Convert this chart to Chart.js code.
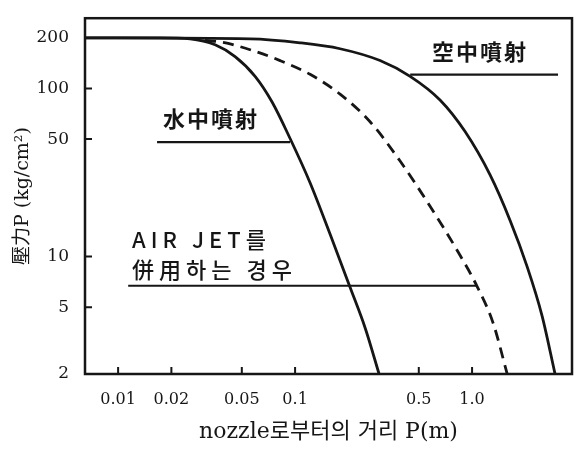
<!DOCTYPE html>
<html>
<head>
<meta charset="utf-8">
<script src="https://cdn.jsdelivr.net/npm/chart.js@4"></script>
<style>
  html, body { margin: 0; padding: 0; background: #fff; }
  #wrap { width: 580px; height: 450px; }
</style>
</head>
<body>
<div id="wrap"><canvas id="c" width="580" height="450"></canvas></div>
<script>
// ---- data ----
const xTickValues = [0.01, 0.02, 0.05, 0.1, 0.5, 1.0];
const xTickLabels = ['0.01', '0.02', '0.05', '0.1', '0.5', '1.0'];
const yTickValues = [2, 5, 10, 50, 100, 200];
const yTickLabels = ['2', '5', '10', '50', '100', '200'];

// 水中噴射 (underwater jet)
const waterDist  = [0.0065, 0.01726, 0.02551, 0.03533, 0.04581, 0.05943, 0.07413, 0.0937, 0.1215, 0.1576, 0.2045, 0.2486, 0.2983];
const waterPress = [200, 200, 197.3, 181.9, 154.7, 118.1, 83.1, 50.4, 27.5, 13.6, 6.56, 3.77, 2];

// AIR JET를 併用하는 경우 (dashed)
const airJetDist  = [0.031, 0.0392, 0.0557, 0.0823, 0.1215, 0.1795, 0.2653, 0.392, 0.579, 0.8017, 1.067, 1.314, 1.58];
const airJetPress = [193, 188, 170.1, 146.6, 121.4, 92.6, 63.4, 37.0, 19.9, 11.42, 6.65, 4.03, 2];

// 空中噴射 (jet in air)
const airDist  = [0.0065, 0.0557, 0.1067, 0.1795, 0.302, 0.4467, 0.659, 0.913, 1.264, 1.640, 2.047, 2.486, 2.944];
const airPress = [200, 197.3, 187, 172.4, 146.6, 118.1, 85.4, 55.4, 30.6, 16.4, 8.71, 4.44, 2];

// leader lines under the labels
const leaderAir    = { x: [0.447, 3.06],   y: [121, 121] };
const leaderWater  = { x: [0.0166, 0.0937], y: [48, 48] };
const leaderAirJet = { x: [0.0114, 1.067], y: [6.7, 6.7] };

// text labels (anchor in data space)
const labelTexts = ['空中噴射', '水中噴射', 'AIR JET를', '併用하는 경우'];
const labelX     = [1.11, 0.0335, 0.012, 0.012];
const labelY     = [165, 66, 12.6, 8.4];

const xTitle = 'nozzle로부터의 거리 P(m)';
const yTitle = '壓力P (kg/cm²)';

// ---- helpers ----
const pts = (xs, ys) => xs.map((v, i) => ({ x: v, y: ys[i] }));
const INK = '#161616';

const framePlugin = {
  id: 'frame',
  beforeDraw(chart) {
    const ctx = chart.ctx;
    ctx.save();
    ctx.fillStyle = '#fff';
    ctx.fillRect(0, 0, chart.width, chart.height);
    ctx.restore();
  },
  afterDatasetsDraw(chart) {
    const { ctx, chartArea: a, scales: { x, y } } = chart;
    ctx.save();
    ctx.strokeStyle = INK;
    ctx.lineWidth = 2.5;
    ctx.strokeRect(a.left, a.top, a.right - a.left, a.bottom - a.top);
    ctx.lineWidth = 2;
    ctx.beginPath();
    xTickValues.forEach(v => {
      const px = x.getPixelForValue(v);
      ctx.moveTo(px, a.bottom); ctx.lineTo(px, a.bottom - 7);
    });
    yTickValues.forEach(v => {
      const py = y.getPixelForValue(v);
      ctx.moveTo(a.left, py); ctx.lineTo(a.left + 7, py);
    });
    ctx.stroke();

    ctx.fillStyle = INK;
    ctx.textBaseline = 'middle';
    labelTexts.forEach((t, i) => {
      const px = x.getPixelForValue(labelX[i]);
      const py = y.getPixelForValue(labelY[i]);
      if (i < 2) {
        ctx.font = 'bold 22px "Noto Sans CJK KR", "Noto Sans CJK TC", sans-serif';
        ctx.letterSpacing = '2px';
        ctx.textAlign = 'center';
      } else {
        ctx.font = '500 22px "Noto Sans CJK KR", "Noto Sans", sans-serif';
        ctx.letterSpacing = '5px';
        ctx.textAlign = 'left';
      }
      ctx.fillText(t, px, py);
    });
    ctx.restore();
  }
};

const lineStyle = { borderColor: INK, borderWidth: 2.8, pointRadius: 0, fill: false, cubicInterpolationMode: 'monotone' };
const leaderStyle = { borderColor: INK, borderWidth: 2.2, pointRadius: 0, fill: false, tension: 0 };

new Chart(document.getElementById('c'), {
  type: 'line',
  data: {
    datasets: [
      Object.assign({ label: '水中噴射', data: pts(waterDist, waterPress) }, lineStyle),
      Object.assign({ label: 'AIR JET를 併用하는 경우', data: pts(airJetDist, airJetPress), borderDash: [11, 7] }, lineStyle),
      Object.assign({ label: '空中噴射', data: pts(airDist, airPress) }, lineStyle),
      Object.assign({ label: 'leader1', data: pts(leaderAir.x, leaderAir.y) }, leaderStyle),
      Object.assign({ label: 'leader2', data: pts(leaderWater.x, leaderWater.y) }, leaderStyle),
      Object.assign({ label: 'leader3', data: pts(leaderAirJet.x, leaderAirJet.y) }, leaderStyle)
    ]
  },
  options: {
    responsive: false,
    animation: false,
    layout: { padding: { top: 13, right: 8, left: 0, bottom: 0 } },
    plugins: { legend: { display: false }, tooltip: { enabled: false } },
    scales: {
      x: {
        type: 'logarithmic',
        min: 0.0065,
        max: 3.67,
        grid: { display: false },
        border: { display: false },
        afterBuildTicks: s => { s.ticks = xTickValues.map(v => ({ value: v })); },
        afterFit: s => { s.height = 76; },
        ticks: {
          autoSkip: false, maxRotation: 0, padding: 8, color: INK,
          font: { family: '"DejaVu Serif", serif', size: 16 },
          callback: (v) => { const i = xTickValues.indexOf(v); return i >= 0 ? xTickLabels[i] : ''; }
        },
        title: {
          display: true, text: xTitle, color: INK,
          font: { family: '"DejaVu Serif", "Noto Sans CJK KR", serif', size: 22 },
          padding: { top: 0, bottom: 5 }
        }
      },
      y: {
        type: 'logarithmic',
        min: 2,
        max: 262,
        grid: { display: false },
        border: { display: false },
        afterBuildTicks: s => { s.ticks = yTickValues.map(v => ({ value: v })); },
        afterFit: s => { s.width = 85; },
        ticks: {
          autoSkip: false, padding: 8, color: INK,
          font: { family: '"DejaVu Serif", serif', size: 17 },
          callback: (v) => { const i = yTickValues.indexOf(v); return i >= 0 ? yTickLabels[i] : ''; }
        },
        title: {
          display: true, text: yTitle, color: INK,
          font: { family: '"DejaVu Serif", "Noto Sans CJK KR", serif', size: 19 },
          padding: { top: 12, bottom: 0 }
        }
      }
    }
  },
  plugins: [framePlugin]
});
</script>
</body>
</html>
